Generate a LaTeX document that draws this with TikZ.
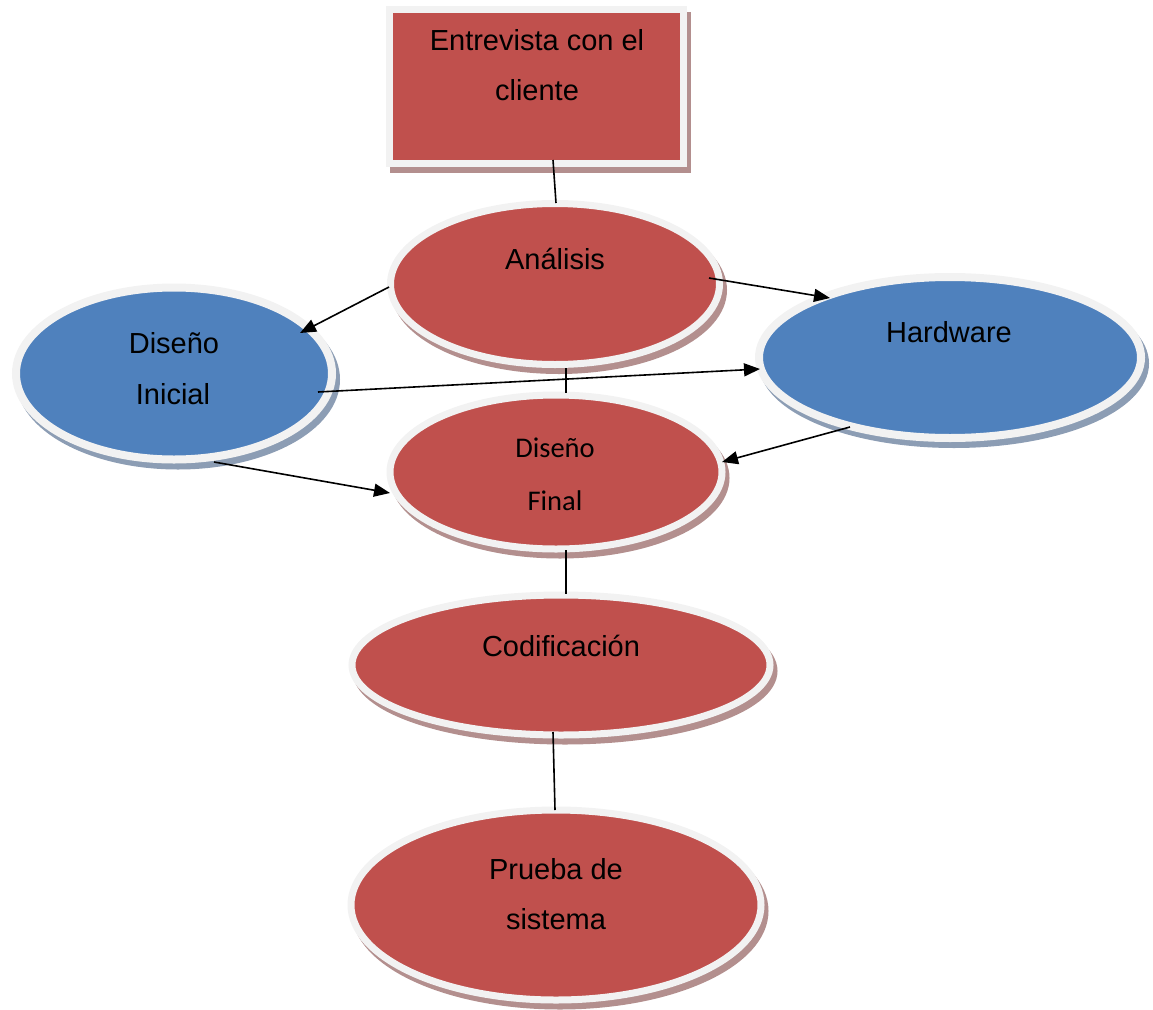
\documentclass[tikz,border=0pt]{standalone}
\usepackage{fontspec}
\setmainfont{Liberation Sans}
\newfontfamily\calib{Carlito}
\usetikzlibrary{shapes.geometric,arrows.meta,calc}
\definecolor{boxred}{HTML}{C0504D}
\definecolor{boxblue}{HTML}{4F81BD}
\definecolor{rimgrey}{HTML}{F2F2F2}
\definecolor{shred}{HTML}{B38F8E}
\definecolor{shblue}{HTML}{8C9DB4}
\begin{document}
\begin{tikzpicture}[x=1pt,y=-1pt,
  redshape/.style={fill=boxred, draw=rimgrey, line width=7pt, inner sep=0pt,
    preaction={fill=shred, draw=shred, line width=7pt, transform canvas={shift={(4pt,-6pt)}}}},
  blueshape/.style={fill=boxblue, draw=rimgrey, line width=8pt, inner sep=0pt,
    preaction={fill=shblue, draw=shblue, line width=8pt, transform canvas={shift={(4pt,-6pt)}}}},
  lbl/.style={anchor=base, inner sep=0pt, font=\fontsize{29}{34}\selectfont},
  clbl/.style={anchor=base, inner sep=0pt, font=\calib\fontsize{28.5}{33}\selectfont},
  link/.style={line width=1.6pt, black},
  arr/.style={link, -{Triangle[length=16pt,width=13pt]}}
]
\useasboundingbox (0,0) rectangle (1153,1009);

% shapes
\node[redshape, rectangle, minimum width=294pt, minimum height=154pt] (ent) at (536.5,86) {};
\node[redshape, ellipse, minimum width=329pt, minimum height=161pt] (ana) at (555,284) {};
\node[blueshape, ellipse, minimum width=316pt, minimum height=172pt] (dini) at (174,373.5) {};
\node[blueshape, ellipse, minimum width=382pt, minimum height=161pt] (hw) at (950,357.5) {};
\node[redshape, ellipse, minimum width=332pt, minimum height=154pt] (dfin) at (556,472) {};
\node[redshape, ellipse, minimum width=418pt, minimum height=140pt] (cod) at (561,665) {};
\node[redshape, ellipse, minimum width=410pt, minimum height=190pt] (pru) at (556,905) {};

% texts
\node[lbl] (entA) at (537,50) {Entrevista con el};
\node[lbl] (entB) at (537,100) {cliente};
\node[lbl] (anaT) at (555,269) {Análisis};
\node[lbl] (diniA) at (174,353) {Diseño};
\node[lbl] (diniB) at (173,404) {Inicial};
\node[lbl] (hwT) at (949,342) {Hardware};
\node[clbl] (dfinA) at (555,457) {Diseño};
\node[clbl] (dfinB) at (555,510) {Final};
\node[lbl] (codT) at (561,656) {Codificación};
\node[lbl] (pruA) at (556,879) {Prueba de};
\node[lbl] (pruB) at (556,929) {sistema};

% connectors
\draw[link] ($(ent)+(16.5,74)$) -- ($(ana)+(1,-81)$);
\draw[arr] ($(ana)+(-166,3)$) -- ($(dini)+(126,-40.5)$);
\draw[arr] ($(ana)+(154,-6)$) -- ($(hw)+(-120,-59.5)$);
\draw[link] ($(ana)+(11,84)$) -- ($(dfin)+(10,-79)$);
\draw[arr] ($(dini)+(144,18.5)$) -- ($(hw)+(-190,11.5)$);
\draw[arr] ($(hw)+(-100,69.5)$) -- ($(dfin)+(166,-10)$);
\draw[arr] ($(dini)+(40,88.5)$) -- ($(dfin)+(-166,21)$);
\draw[link] ($(dfin)+(10,78)$) -- ($(cod)+(5,-71)$);
\draw[link] ($(cod)+(-8,67)$) -- ($(pru)+(-1,-95)$);
\end{tikzpicture}
\end{document}
